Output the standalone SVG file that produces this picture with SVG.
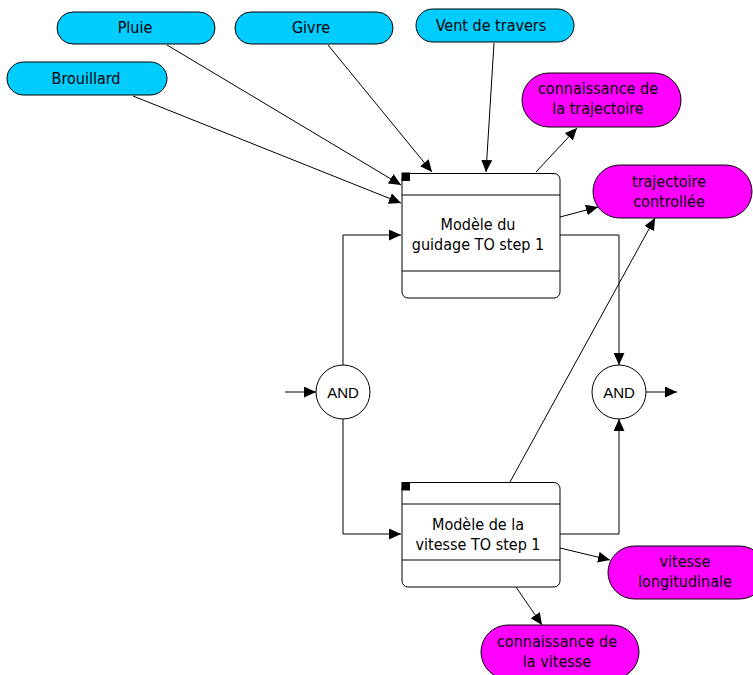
<svg xmlns="http://www.w3.org/2000/svg" width="753" height="675" viewBox="0 0 753 675">
<style>
.cyan{fill:#00CCFF;stroke:#000;stroke-width:1}
.mag{fill:#FF00FF;stroke:#000;stroke-width:1}
.box{fill:#fff;stroke:#000;stroke-width:1}
.sep{stroke:#000;stroke-width:1}
.t{font-family:"DejaVu Sans Condensed","DejaVu Sans",sans-serif;font-stretch:condensed;font-size:16px;fill:#000;text-anchor:middle}
.a{font-family:"Liberation Sans",Arial,sans-serif;font-size:15px;fill:#000;text-anchor:middle}
.c{fill:none;stroke:#000;stroke-width:1}
</style>
<defs>
<marker id="arr" markerUnits="userSpaceOnUse" markerWidth="13" markerHeight="11" refX="12" refY="5.5" orient="auto">
<path d="M0,0 L12,5.5 L0,11 z" fill="#000"/>
</marker>
</defs>
<rect x="0" y="0" width="753" height="675" fill="#fff"/>
<g id="connectors">
<line class="c" x1="167" y1="45" x2="401" y2="185" marker-end="url(#arr)"/>
<line class="c" x1="133" y1="96" x2="401" y2="203" marker-end="url(#arr)"/>
<line class="c" x1="328" y1="45" x2="432" y2="172" marker-end="url(#arr)"/>
<line class="c" x1="494" y1="43" x2="486" y2="172" marker-end="url(#arr)"/>
<line class="c" x1="536" y1="172" x2="577" y2="128" marker-end="url(#arr)"/>
<line class="c" x1="560" y1="217" x2="598" y2="207" marker-end="url(#arr)"/>
<line class="c" x1="510" y1="482" x2="655" y2="218" marker-end="url(#arr)"/>
<line class="c" x1="560" y1="548" x2="610" y2="560" marker-end="url(#arr)"/>
<line class="c" x1="516" y1="587" x2="542" y2="625" marker-end="url(#arr)"/>
<line class="c" x1="285" y1="392" x2="316" y2="392" marker-end="url(#arr)"/>
<polyline class="c" points="343,365 343,235 401,235" marker-end="url(#arr)"/>
<polyline class="c" points="343,419 343,534 401,534" marker-end="url(#arr)"/>
<polyline class="c" points="560,235 619,235 619,365" marker-end="url(#arr)"/>
<polyline class="c" points="560,534 619,534 619,419" marker-end="url(#arr)"/>
<line class="c" x1="646" y1="392" x2="677" y2="392" marker-end="url(#arr)"/>
</g>
<g id="pluie"><rect class="cyan" x="57" y="12" width="158" height="32" rx="16"/><text class="t" x="135" y="33">Pluie</text></g>
<g id="givre"><rect class="cyan" x="235" y="12" width="158" height="32" rx="16"/><text class="t" x="311" y="33">Givre</text></g>
<g id="vent"><rect class="cyan" x="416" y="9" width="158" height="33" rx="16.5"/><text class="t" x="491" y="31">Vent de travers</text></g>
<g id="brouillard"><rect class="cyan" x="7" y="62" width="160" height="33" rx="16.5"/><text class="t" x="86" y="84">Brouillard</text></g>
<g id="conn-traj"><rect class="mag" x="522" y="73" width="159" height="54" rx="27"/><text class="t" x="598" y="94">connaissance de</text><text class="t" x="598" y="114">la trajectoire</text></g>
<g id="traj-ctrl"><rect class="mag" x="593" y="165" width="159" height="53" rx="26.5"/><text class="t" x="669" y="187">trajectoire</text><text class="t" x="669" y="207">controllée</text></g>
<g id="vit-long"><rect class="mag" x="608" y="546" width="158" height="53" rx="26.5"/><text class="t" x="685" y="567">vitesse</text><text class="t" x="685" y="587">longitudinale</text></g>
<g id="conn-vit"><rect class="mag" x="481" y="625" width="158" height="54" rx="27"/><text class="t" x="557" y="647">connaissance de</text><text class="t" x="557" y="667">la vitesse</text></g>
<g id="guidage">
<rect class="box" x="402" y="173.5" width="158" height="124.5" rx="6"/>
<line class="sep" x1="402" y1="195" x2="560" y2="195"/>
<line class="sep" x1="402" y1="271" x2="560" y2="271"/>
<rect x="401.5" y="172.5" width="8.5" height="8.5" fill="#000"/>
<text class="t" x="478" y="230">Modèle du</text>
<text class="t" x="478" y="250">guidage TO step 1</text>
</g>
<g id="vitesse">
<rect class="box" x="402" y="482.5" width="158" height="104.5" rx="6"/>
<line class="sep" x1="402" y1="504" x2="560" y2="504"/>
<line class="sep" x1="402" y1="560" x2="560" y2="560"/>
<rect x="401.5" y="482" width="8.5" height="8.5" fill="#000"/>
<text class="t" x="478" y="530">Modèle de la</text>
<text class="t" x="478" y="550">vitesse TO step 1</text>
</g>
<g id="and1"><circle cx="343" cy="392" r="27" fill="#fff" stroke="#000" stroke-width="1"/><text class="a" x="343" y="397.5">AND</text></g>
<g id="and2"><circle cx="619" cy="392" r="27" fill="#fff" stroke="#000" stroke-width="1"/><text class="a" x="619" y="397.5">AND</text></g>
</svg>
